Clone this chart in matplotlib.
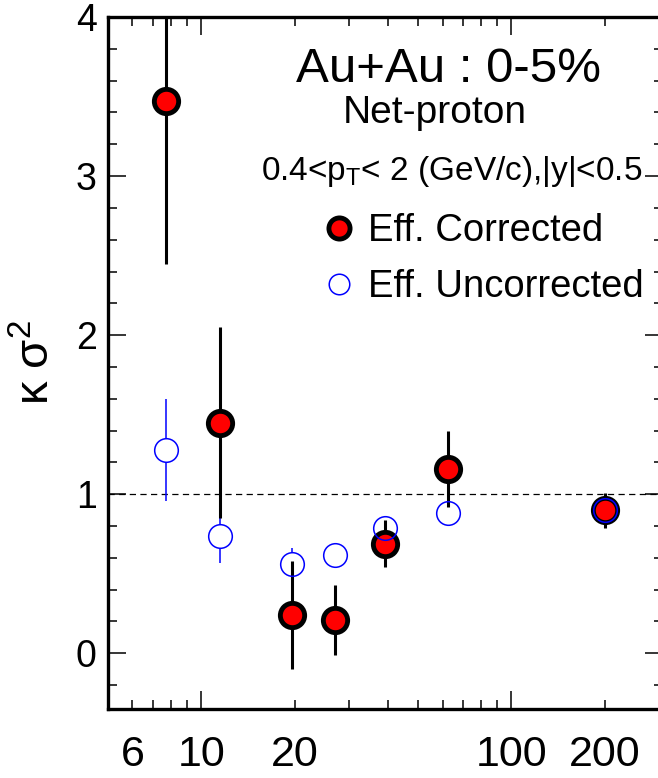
import matplotlib
matplotlib.use('Agg')
import numpy as np
import matplotlib.pyplot as plt
from matplotlib.ticker import FixedLocator, LogLocator, MultipleLocator, FuncFormatter

# collision energies (GeV) and net-proton kappa*sigma^2, Au+Au 0-5%
energy = [7.7, 11.5, 19.6, 27, 39, 62.4, 200]
kurt_corr = [3.47, 1.45, 0.24, 0.21, 0.69, 1.16, 0.90]
err_corr = [1.02, 0.60, 0.34, 0.22, 0.15, 0.24, 0.11]
kurt_uncorr = [1.28, 0.74, 0.56, 0.62, 0.79, 0.88, 0.90]
err_uncorr = [0.32, 0.17, 0.10, 0.05, 0.05, 0.04, 0.03]

x_labels = [6, 10, 20, 100, 200]

plt.rcParams['font.family'] = ['Liberation Sans', 'DejaVu Sans']
plt.rcParams['mathtext.default'] = 'regular'

fig = plt.figure(figsize=(6.58, 7.78), dpi=100)
ax = fig.add_axes([0.164, 0.0887, 0.8435, 0.8895])

ax.axhline(1, color='black', lw=0.9, ls=(0, (5, 3.5)), zorder=1)

# uncorrected: error bar hidden inside the open circle
ax.errorbar(energy, kurt_uncorr, yerr=err_uncorr, fmt='none', ecolor='blue',
            elinewidth=1.1, zorder=2)
ax.plot(energy, kurt_uncorr, 'o', ms=17, mfc='white', mec='none', zorder=3)

# corrected
ax.errorbar(energy, kurt_corr, yerr=err_corr, fmt='none', ecolor='black',
            elinewidth=2.2, zorder=4)
corr, = ax.plot(energy, kurt_corr, 'o', ms=17.5, mfc='red', mec='black',
                mew=3.5, zorder=5)
uncorr, = ax.plot(energy, kurt_uncorr, 'o', ms=17, mfc='none', mec='blue',
                  mew=1.1, zorder=6)

ax.set_xscale('log')
ax.set_xlim(5, 308)
ax.set_ylim(-0.35, 4)

ax.xaxis.set_major_locator(FixedLocator([10, 100]))
ax.xaxis.set_minor_locator(LogLocator(base=10, subs=np.arange(2, 10), numticks=20))
lab = lambda v, p: f'{v:g}' if int(round(v)) in x_labels else ''
ax.xaxis.set_major_formatter(FuncFormatter(lab))
ax.xaxis.set_minor_formatter(FuncFormatter(lab))
ax.yaxis.set_major_locator(MultipleLocator(1))
ax.yaxis.set_minor_locator(MultipleLocator(0.2))
ax.yaxis.set_major_formatter(FuncFormatter(lambda v, p: f'{v:.0f}'))

ax.tick_params(which='both', direction='in', top=True, right=True, width=1.1)
ax.tick_params(which='major', length=13)
ax.tick_params(which='minor', length=6.5)
ax.tick_params(axis='x', which='both', labelsize=31, pad=19)
ax.tick_params(axis='y', which='both', labelsize=27, pad=8)
for sp in ax.spines.values():
    sp.set_linewidth(2.4)

ax.set_ylabel('κ σ$^2$', fontsize=34)
ax.yaxis.set_label_coords(-0.088, 0.5)

ax.text(0.614, 0.906, 'Au+Au : 0-5%', transform=ax.transAxes, ha='center',
        va='baseline', fontsize=35.5)
ax.text(0.588, 0.847, 'Net-proton', transform=ax.transAxes, ha='center',
        va='baseline', fontsize=28)
ax.text(0.619, 0.764, '0.4<p$_T$< 2 (GeV/c),|y|<0.5', transform=ax.transAxes,
        ha='center', va='baseline', fontsize=24)

ax.legend([corr, uncorr], ['Eff. Corrected', 'Eff. Uncorrected'],
          loc='upper left', bbox_to_anchor=(0.384, 0.716), frameon=False,
          fontsize=27.5, handlelength=0.96, handletextpad=0.26, borderpad=0,
          borderaxespad=0, labelspacing=0.52, markerscale=0.87)

fig.savefig('out.png', dpi=100)
